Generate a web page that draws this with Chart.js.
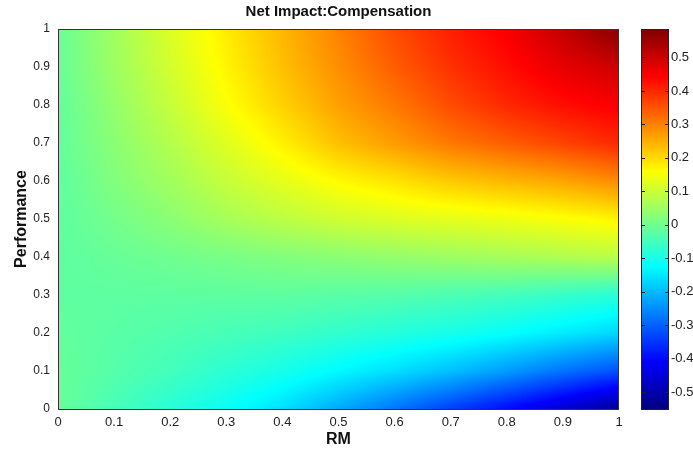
<!DOCTYPE html>
<html>
<head>
<meta charset="utf-8">
<script src="https://cdn.jsdelivr.net/npm/chart.js@4.4.0/dist/chart.umd.min.js"></script>
<style>
  html, body { margin: 0; padding: 0; background: #fff; }
  #wrap { width: 693px; height: 450px; }
</style>
</head>
<body>
<div id="wrap"><canvas id="heat" width="693" height="450"></canvas></div>
<script>
// --- Data (grid nodes) ---
const rmValues = [0, 0.1, 0.2, 0.3, 0.4, 0.5, 0.6, 0.7, 0.8, 0.9, 1];
const perfValues = [0, 0.1, 0.2, 0.3, 0.4, 0.5, 0.6, 0.7, 0.8, 0.9, 1];

// one row per Performance value (bottom to top), one column per RM value
const netImpact = [
  [-0.010, -0.045, -0.080, -0.115, -0.160, -0.220, -0.280, -0.340, -0.400, -0.460, -0.525],
  [-0.010, -0.030, -0.050, -0.075, -0.100, -0.130, -0.160, -0.195, -0.235, -0.280, -0.320],
  [-0.015, -0.025, -0.035, -0.045, -0.055, -0.070, -0.085, -0.100, -0.120, -0.145, -0.170],
  [-0.020, -0.020, -0.020, -0.020, -0.020, -0.025, -0.030, -0.040, -0.050, -0.065, -0.080],
  [-0.020, -0.010,  0.000,  0.010,  0.020,  0.030,  0.040,  0.050,  0.060,  0.070,  0.080],
  [-0.020,  0.005,  0.030,  0.060,  0.085,  0.105,  0.120,  0.130,  0.140,  0.155,  0.170],
  [-0.020,  0.020,  0.055,  0.095,  0.130,  0.165,  0.190,  0.220,  0.240,  0.260,  0.290],
  [-0.015,  0.030,  0.075,  0.125,  0.175,  0.230,  0.270,  0.310,  0.340,  0.370,  0.400],
  [-0.015,  0.040,  0.095,  0.155,  0.210,  0.265,  0.310,  0.360,  0.400,  0.430,  0.450],
  [-0.010,  0.050,  0.110,  0.170,  0.230,  0.285,  0.340,  0.390,  0.430,  0.470,  0.500],
  [-0.010,  0.055,  0.120,  0.180,  0.240,  0.300,  0.360,  0.410,  0.450,  0.510,  0.580]
];

const xTickValues = [0, 0.1, 0.2, 0.3, 0.4, 0.5, 0.6, 0.7, 0.8, 0.9, 1];
const xTickLabels = ['0', '0.1', '0.2', '0.3', '0.4', '0.5', '0.6', '0.7', '0.8', '0.9', '1'];
const yTickValues = [0, 0.1, 0.2, 0.3, 0.4, 0.5, 0.6, 0.7, 0.8, 0.9, 1];
const yTickLabels = ['0', '0.1', '0.2', '0.3', '0.4', '0.5', '0.6', '0.7', '0.8', '0.9', '1'];
const cbTickValues = [-0.5, -0.4, -0.3, -0.2, -0.1, 0, 0.1, 0.2, 0.3, 0.4, 0.5];
const cbTickLabels = ['-0.5', '-0.4', '-0.3', '-0.2', '-0.1', '0', '0.1', '0.2', '0.3', '0.4', '0.5'];
const colorMin = -0.55;
const colorMax = 0.585;

// --- Helpers ---
function clamp01(v) { return v < 0 ? 0 : (v > 1 ? 1 : v); }

// MATLAB style jet colormap
function jet(t) {
    t = clamp01(t);
    return [
        Math.round(255 * clamp01(1.5 - Math.abs(4 * t - 3))),
        Math.round(255 * clamp01(1.5 - Math.abs(4 * t - 2))),
        Math.round(255 * clamp01(1.5 - Math.abs(4 * t - 1)))
    ];
}

function findCell(arr, v) {
    for (let i = 0; i < arr.length - 2; i++) {
        if (v < arr[i + 1]) return i;
    }
    return arr.length - 2;
}

// shading between the grid nodes (like shading interp)
function sample(rm, perf) {
    const i = findCell(rmValues, rm);
    const j = findCell(perfValues, perf);
    const fx = clamp01((rm - rmValues[i]) / (rmValues[i + 1] - rmValues[i]));
    const fy = clamp01((perf - perfValues[j]) / (perfValues[j + 1] - perfValues[j]));
    const a = netImpact[j][i], b = netImpact[j][i + 1];
    const c = netImpact[j + 1][i], d = netImpact[j + 1][i + 1];
    return (a * (1 - fx) + b * fx) * (1 - fy) + (c * (1 - fx) + d * fx) * fy;
}

function toT(v) { return (v - colorMin) / (colorMax - colorMin); }

// keep tick padding from pushing the plot area around
function noPad(s) { s.paddingTop = 0; s.paddingBottom = 0; s.paddingLeft = 0; s.paddingRight = 0; }

// --- Plugins ---
const heatmapPlugin = {
    id: 'heatmap',
    beforeDatasetsDraw(chart) {
        const { ctx, chartArea: area, scales: { x, y } } = chart;
        const left = Math.round(area.left), top = Math.round(area.top);
        const w = Math.round(area.right) - left, h = Math.round(area.bottom) - top;
        const img = ctx.createImageData(w, h);
        for (let j = 0; j < h; j++) {
            const perf = y.getValueForPixel(top + j + 0.5);
            for (let i = 0; i < w; i++) {
                const rm = x.getValueForPixel(left + i + 0.5);
                const [r, g, b] = jet(toT(sample(rm, perf)));
                const k = (j * w + i) * 4;
                img.data[k] = r; img.data[k + 1] = g; img.data[k + 2] = b; img.data[k + 3] = 255;
            }
        }
        ctx.putImageData(img, left, top);
    },
    afterDraw(chart) {
        const { ctx, chartArea: area, scales: { c } } = chart;
        ctx.save();
        // axes box
        ctx.strokeStyle = '#333';
        ctx.lineWidth = 1;
        ctx.strokeRect(Math.round(area.left) + 0.5, Math.round(area.top) + 0.5,
            Math.round(area.right - area.left) - 1, Math.round(area.bottom - area.top));

        // colorbar
        const cbLeft = Math.round(area.right) + 22;
        const cbWidth = 28;
        const top = Math.round(c.top), bottom = Math.round(c.bottom);
        for (let py = top; py < bottom; py++) {
            const [r, g, b] = jet(toT(c.getValueForPixel(py + 0.5)));
            ctx.fillStyle = `rgb(${r},${g},${b})`;
            ctx.fillRect(cbLeft, py, cbWidth, 1);
        }
        ctx.strokeStyle = '#222';
        ctx.beginPath();
        cbTickValues.forEach(v => {
            const py = Math.round(c.getPixelForValue(v)) + 0.5;
            ctx.moveTo(cbLeft, py); ctx.lineTo(cbLeft + 4, py);
            ctx.moveTo(cbLeft + cbWidth - 4, py); ctx.lineTo(cbLeft + cbWidth, py);
        });
        ctx.stroke();
        ctx.strokeRect(cbLeft + 0.5, top + 0.5, cbWidth - 1, bottom - top);
        ctx.restore();
    }
};

// --- Chart ---
const tickColor = '#222';
const tickFont = { family: "'Liberation Sans', Arial, sans-serif", size: 13 };
const labelFont = { family: "'Liberation Sans', Arial, sans-serif", size: 16, weight: 'bold' };

new Chart(document.getElementById('heat').getContext('2d'), {
    type: 'scatter',
    data: { datasets: [{ data: [], pointRadius: 0 }] },
    options: {
        responsive: false,
        animation: false,
        layout: { padding: 0 },
        plugins: {
            legend: { display: false },
            tooltip: { enabled: false },
            title: {
                display: true,
                text: 'Net Impact:Compensation',
                color: '#111',
                fullSize: false,
                font: { family: "'Liberation Sans', Arial, sans-serif", size: 15, weight: 'bold' },
                padding: { top: 3, bottom: 8 }
            }
        },
        scales: {
            x: {
                type: 'linear', position: 'bottom', min: 0, max: 1,
                afterBuildTicks: s => { s.ticks = xTickValues.map(v => ({ value: v })); },
                afterFit: s => { s.height = 41; noPad(s); },
                grid: { display: false, drawTicks: false },
                border: { display: false },
                ticks: { color: tickColor, font: tickFont, padding: 6, maxRotation: 0,
                    callback: (v, i) => xTickLabels[i] },
                title: { display: true, text: 'RM', color: '#111', font: labelFont,
                    padding: { top: 0, bottom: 1 } }
            },
            y: {
                type: 'linear', position: 'left', min: 0, max: 1,
                afterBuildTicks: s => { s.ticks = yTickValues.map(v => ({ value: v })); },
                afterFit: s => { s.width = 58; noPad(s); },
                grid: { display: false, drawTicks: false },
                border: { display: false },
                ticks: { color: tickColor, font: { family: tickFont.family, size: 12 }, padding: 8,
                    callback: (v, i) => yTickLabels[i] },
                title: { display: true, text: 'Performance', color: '#111', font: labelFont,
                    padding: { top: 12, bottom: 0 } }
            },
            c: {
                type: 'linear', position: 'right', min: colorMin, max: colorMax,
                afterBuildTicks: s => { s.ticks = cbTickValues.map(v => ({ value: v })); },
                afterFit: s => { s.width = 74; noPad(s); },
                grid: { display: false, drawTicks: false },
                border: { display: false },
                ticks: { color: tickColor, font: tickFont, padding: 52,
                    callback: (v, i) => cbTickLabels[i] }
            }
        }
    },
    plugins: [heatmapPlugin]
});
</script>
</body>
</html>
